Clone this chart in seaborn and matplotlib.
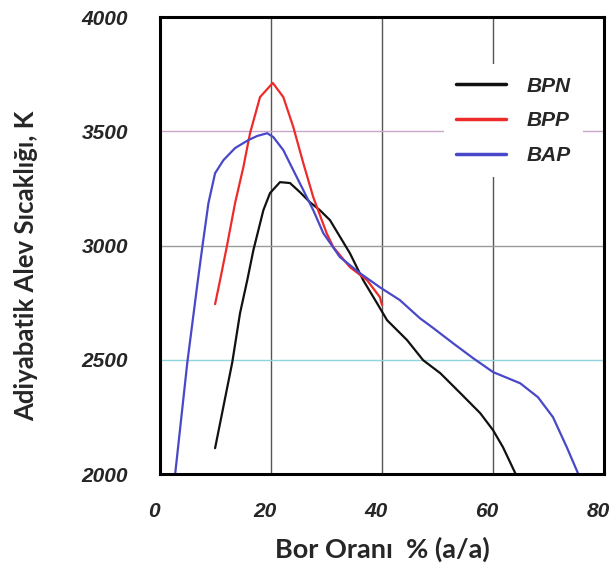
import pandas as pd
import seaborn as sns
import matplotlib.pyplot as plt
from matplotlib.transforms import ScaledTranslation

# curves (boron ratio %, adiabatic flame temperature K)
bpn_x = [9.9, 13.0, 14.4, 15.7, 16.8, 18.6, 19.8, 21.6, 23.4, 25.2, 27.0, 28.8, 30.6,
         34.2, 36.6, 39.1, 40.9, 44.5, 47.4, 50.5, 54.1, 57.7, 60.0, 61.8, 64.0]
bpn_y = [2114, 2490, 2705, 2849, 2980, 3155, 3230, 3278, 3274, 3234, 3190, 3155, 3112,
         2967, 2849, 2748, 2674, 2587, 2499, 2442, 2355, 2267, 2193, 2118, 2005]

bpp_x = [9.9, 10.8, 12.0, 13.5, 15.0, 16.2, 18.0, 20.3, 22.2, 24.0, 25.8, 27.6, 30.0,
         31.2, 34.2, 37.3, 39.6, 40.0]
bpp_y = [2744, 2849, 2994, 3186, 3344, 3492, 3650, 3712, 3650, 3519, 3361, 3212, 3055,
         2994, 2906, 2849, 2775, 2740]

bap_x = [2.7, 4.9, 6.8, 7.6, 8.7, 9.9, 11.4, 13.5, 15.9, 17.5, 19.3, 20.4, 22.2, 24.0,
         25.8, 27.6, 29.4, 32.4, 36.0, 39.6, 43.2, 46.8, 49.2, 52.8, 56.4, 60.0, 64.9,
         68.1, 70.8, 73.3, 75.3]
bap_y = [2000, 2490, 2849, 2994, 3186, 3317, 3374, 3427, 3462, 3480, 3492, 3475, 3418,
         3330, 3243, 3155, 3055, 2950, 2880, 2818, 2762, 2683, 2640, 2573, 2508, 2447,
         2398, 2337, 2250, 2118, 2005]

series = ["BPN", "BPP", "BAP"]
colors = ["#111111", "#ee2b2b", "#4848c8"]
x_ticks = [0, 20, 40, 60, 80]
y_ticks = [2000, 2500, 3000, 3500, 4000]

df = pd.concat([
    pd.DataFrame({"x": bpn_x, "y": bpn_y, "seri": "BPN"}),
    pd.DataFrame({"x": bpp_x, "y": bpp_y, "seri": "BPP"}),
    pd.DataFrame({"x": bap_x, "y": bap_y, "seri": "BAP"}),
], ignore_index=True)

sns.set_style("white")
plt.rcParams["font.family"] = ["Liberation Sans", "DejaVu Sans"]

fig = plt.figure(figsize=(6.16, 5.70), dpi=100)
ax = fig.add_axes([0.26, 0.168, 0.7205, 0.802])

# grid lines (drawn by hand to get the mixed colours of the original)
for gx in [20, 40, 60]:
    ax.axvline(gx, color="#555555", lw=1.0, zorder=0)
for gy, gc in zip([2500, 3000, 3500], ["#8fd3dc", "#9a9a9a", "#c9a6c9"]):
    ax.axhline(gy, color=gc, lw=1.0, zorder=0)

sns.lineplot(data=df, x="x", y="y", hue="seri", hue_order=series,
             palette=colors, sort=False, estimator=None, lw=1.6, ax=ax,
             solid_joinstyle="round")

ax.set_xlim(0, 80)
ax.set_ylim(2000, 4000)
ax.set_xticks(x_ticks)
ax.set_yticks(y_ticks)
ax.tick_params(direction="in", length=6, width=1.5, pad=20)
ax.tick_params(axis="y", pad=23)
shift = ScaledTranslation(-0.06, 0, fig.dpi_scale_trans)
for lab in ax.get_xticklabels():
    lab.set_transform(lab.get_transform() + shift)
for lab in ax.get_xticklabels() + ax.get_yticklabels():
    lab.set_fontsize(15)
    lab.set_fontweight("bold")
    lab.set_fontstyle("italic")

for sp in ax.spines.values():
    sp.set_linewidth(2.2)
    sp.set_color("black")

ax.set_xlabel("Bor Oranı  % (a/a)", fontsize=19.5, fontweight="bold",
              family=["Lato", "DejaVu Sans"])
ax.set_ylabel("Adiyabatik Alev Sıcaklığı, K", fontsize=18.5, fontweight="bold",
              family=["Lato", "DejaVu Sans"])
ax.xaxis.set_label_coords(0.5, -0.136)
ax.yaxis.set_label_coords(-0.275, 0.457)

leg = ax.legend(loc="upper left", bbox_to_anchor=(0.615, 0.92), frameon=True,
                facecolor="white", edgecolor="none", framealpha=1,
                handlelength=2.4, handletextpad=1.0, labelspacing=0.75,
                borderpad=0.6, prop={"size": 15, "weight": "bold", "style": "italic"})
for line in leg.get_lines():
    line.set_linewidth(2.5)

fig.savefig("out.png", dpi=100)
